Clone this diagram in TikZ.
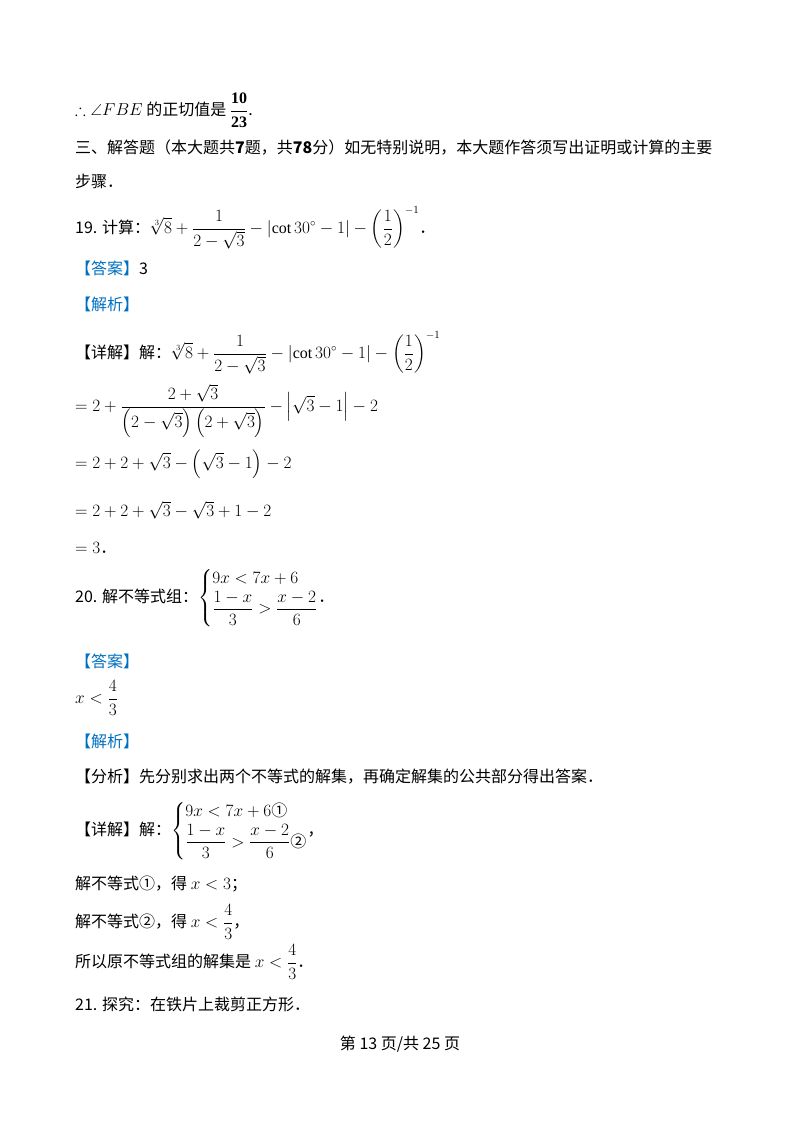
\documentclass[tikz,border=0pt]{standalone}
\usepackage{amsmath,amssymb}
\usepackage{fontspec}
\setmainfont{Liberation Serif}
\newfontfamily\cjk{Noto Sans CJK SC}
\definecolor{ansblue}{RGB}{0,112,192}
\newcommand{\mycases}[1]{\left\{\begin{array}{@{}l@{}}#1\end{array}\right.}
\begin{document}
\begin{tikzpicture}[x=1pt,y=-1pt,
  t/.style={anchor=west,inner sep=0pt,font=\fontsize{16}{19}\selectfont\cjk}]
\useasboundingbox (0,0) rectangle (800,1132);
\fill[white] (0,0) rectangle (800,1132);
\node[t] (l1) at (75,110) {$\therefore\angle FBE$ 的正切值是 $\dfrac{\mathbf{10}}{\mathbf{23}}$.};
\node[t] (l2) at (75,148) {三、解答题（本大题共\textbf{7}题，共\textbf{78}分）如无特别说明，本大题作答须写出证明或计算的主要};
\node[t] (l3) at (75,181) {步骤．};
\node[t] (q19) at (75,228) {19. 计算：$\sqrt[3]{8}+\dfrac{1}{2-\sqrt3}-\left|\cot 30^\circ-1\right|-\left(\dfrac12\right)^{-1}$．};
\node[t] (a19) at (75,268) {\textcolor{ansblue}{【答案】}3};
\node[t] (j19) at (75,304) {\textcolor{ansblue}{【解析】}};
\node[t] (d1) at (75,353) {【详解】解：$\sqrt[3]{8}+\dfrac{1}{2-\sqrt3}-\left|\cot 30^\circ-1\right|-\left(\dfrac12\right)^{-1}$};
\node[t] (d2) at (75,411) {$=2+\dfrac{2+\sqrt3}{\left(2-\sqrt3\right)\left(2+\sqrt3\right)}-\left|\sqrt3-1\right|-2$};
\node[t] (d3) at (75,464) {$=2+2+\sqrt3-\left(\sqrt3-1\right)-2$};
\node[t] (d4) at (75,510) {$=2+2+\sqrt3-\sqrt3+1-2$};
\node[t] (d5) at (75,548) {$=3$．};
\node[t] (q20) at (75,598) {20. 解不等式组：$\mycases{9x<7x+6\\[2pt] \dfrac{1-x}{3}>\dfrac{x-2}{6}}$．};
\node[t] (a20) at (75,661) {\textcolor{ansblue}{【答案】}};
\node[t] (ans) at (75,698) {$x<\dfrac43$};
\node[t] (j20) at (75,741) {\textcolor{ansblue}{【解析】}};
\node[t] (f20) at (75,777) {【分析】先分别求出两个不等式的解集，再确定解集的公共部分得出答案．};
\node[t] (x20) at (75,831) {【详解】解：$\mycases{9x<7x+6\text{①}\\[2pt] \dfrac{1-x}{3}>\dfrac{x-2}{6}\text{②}}$，};
\node[t] (s1) at (75,884) {解不等式①，得 $x<3$；};
\node[t] (s2) at (75,922) {解不等式②，得 $x<\dfrac43$，};
\node[t] (s3) at (75,962) {所以原不等式组的解集是 $x<\dfrac43$．};
\node[t] (q21) at (75,1004) {21. 探究：在铁片上裁剪正方形．};
\node[t,anchor=center] (pg) at (400,1044) {第 13 页/共 25 页};
\end{tikzpicture}
\end{document}
